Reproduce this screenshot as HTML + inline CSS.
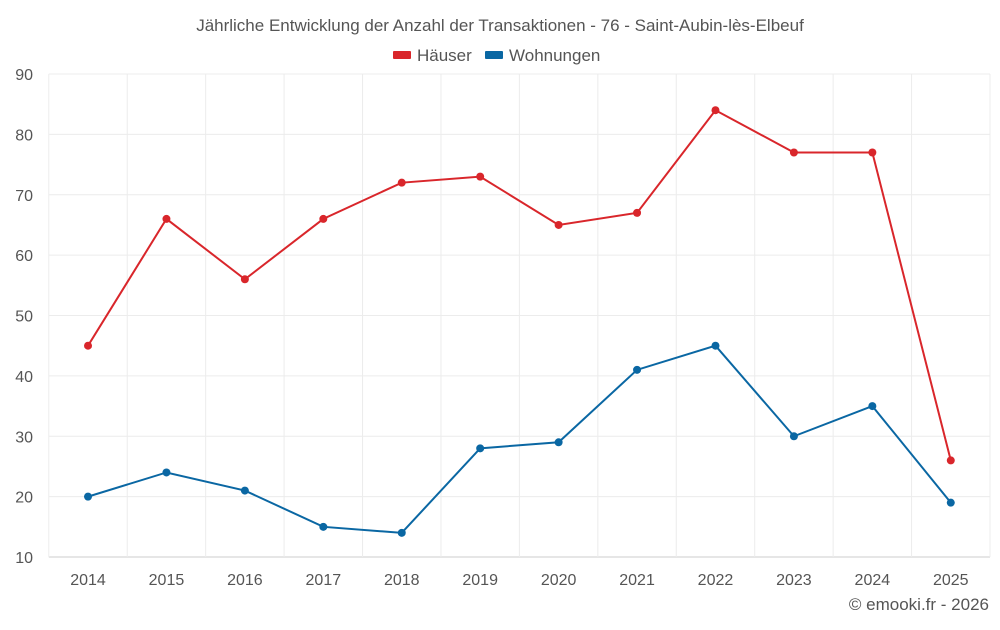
<!DOCTYPE html>
<html><head><meta charset="utf-8"><style>
body{margin:0;background:#fff;font-family:"Liberation Sans",sans-serif;}
svg text{font-family:"Liberation Sans",sans-serif;}
</style></head><body>
<svg id="c" width="1000" height="625" viewBox="0 0 1000 625">
<text x="500" y="31" text-anchor="middle" font-size="17" fill="#555">Jährliche Entwicklung der Anzahl der Transaktionen - 76 - Saint-Aubin-lès-Elbeuf</text>
<g>
<g><rect x="393" y="51" width="18" height="8" rx="1" fill="#d9262b"/><text x="417" y="61" font-size="17" fill="#555">Häuser</text></g>
<g><rect x="485" y="51" width="18" height="8" rx="1" fill="#0a67a3"/><text x="509" y="61" font-size="17" fill="#555">Wohnungen</text></g>
</g>
<g id="grid"></g><g id="axes"></g><g id="series"></g>
<text x="989" y="610" text-anchor="end" font-size="17" fill="#555">© emooki.fr - 2026</text>
</svg>
<script>
const categories=["2014","2015","2016","2017","2018","2019","2020","2021","2022","2023","2024","2025"];
const haeuser=[45,66,56,66,72,73,65,67,84,77,77,26];
const wohnungen=[20,24,21,15,14,28,29,41,45,30,35,19];
const yTicks=[10,20,30,40,50,60,70,80,90];
const NS="http://www.w3.org/2000/svg";
const L=48.8,R=990,T=74,B=557,yMin=10,yMax=90;
const step=(R-L)/categories.length;
const x=i=>L+step*(i+0.5);
const y=v=>B-(v-yMin)/(yMax-yMin)*(B-T);
function mk(tag,attrs,parent){const e=document.createElementNS(NS,tag);for(const k in attrs)e.setAttribute(k,attrs[k]);parent.appendChild(e);return e;}
const grid=document.getElementById('grid'),axes=document.getElementById('axes'),ser=document.getElementById('series');
yTicks.forEach(t=>{
 const ln=mk('line',{x1:L,x2:R,y1:y(t),y2:y(t),stroke:t===yMin?'#ccc':'#ececec','stroke-width':1},grid);
 
 
 const tx=mk('text',{x:33,y:y(t)+6,'text-anchor':'end','font-size':16,fill:'#555'},axes);tx.textContent=t;
 
 
});
for(let i=0;i<=categories.length;i++){
 const ln=mk('line',{x1:L+step*i,x2:L+step*i,y1:T,y2:B,stroke:'#ececec','stroke-width':1},grid);
 
 
}
categories.forEach((c,i)=>{
 const tx=mk('text',{x:x(i),y:585,'text-anchor':'middle','font-size':16,fill:'#555'},axes);tx.textContent=c;
 
 
});
function draw(data,color,name){
 const p=mk('polyline',{points:data.map((v,i)=>x(i)+','+y(v)).join(' '),fill:'none',stroke:color,'stroke-width':2},ser);
 
 
 data.forEach((v,i)=>{
  const c=mk('circle',{cx:x(i),cy:y(v),r:4,fill:color},ser);
  
  
 });
}
draw(haeuser,'#d9262b','haeuser');
draw(wohnungen,'#0a67a3','wohnungen');
</script>
</body></html>
